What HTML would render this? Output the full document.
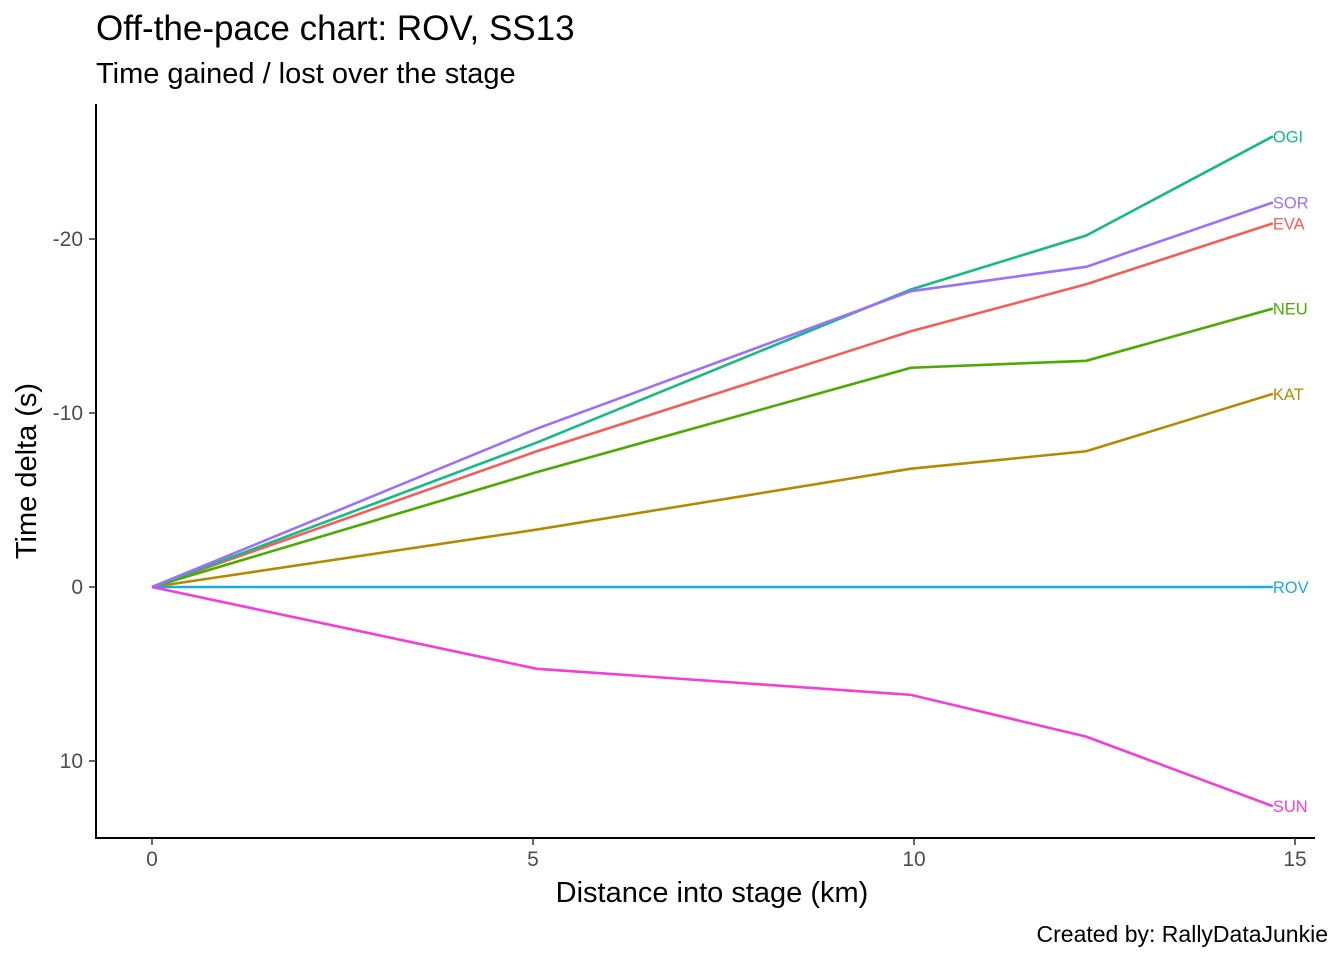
<!DOCTYPE html>
<html><head><meta charset="utf-8"><style>
body{margin:0;background:#fff;}
svg{display:block;font-family:"Liberation Sans",Arial,sans-serif;}
</style></head><body>
<svg id="chart" width="1344" height="960">
<text x="96" y="40" font-size="35" fill="#000">Off-the-pace chart: ROV, SS13</text>
<text x="96" y="83" font-size="29" fill="#000">Time gained / lost over the stage</text>
<g id="plot"></g>
<line x1="96" y1="104" x2="96" y2="839" stroke="#000" stroke-width="2"/>
<line x1="95" y1="838" x2="1315" y2="838" stroke="#000" stroke-width="2"/>
<text x="712" y="902" font-size="29" text-anchor="middle">Distance into stage (km)</text>
<text transform="translate(36,471) rotate(-90)" font-size="29" text-anchor="middle">Time delta (s)</text>
<text x="1328" y="942" font-size="23" text-anchor="end">Created by: RallyDataJunkie</text>
</svg>
<script>
const distances=[0,5.05,9.96,12.26,14.71];
const drivers=["EVA","KAT","NEU","OGI","ROV","SOR","SUN"];
const colors=["#F35E5A","#B38A00","#4CAA00","#17B985","#19A9E5","#9B70FA","#F43ED8"];
const EVA=[0,-7.8,-14.7,-17.4,-20.9];
const KAT=[0,-3.3,-6.8,-7.8,-11.1];
const NEU=[0,-6.6,-12.6,-13.0,-16.0];
const OGI=[0,-8.3,-17.1,-20.2,-25.9];
const ROV=[0,0,0,0,0];
const SOR=[0,-9.1,-17.0,-18.4,-22.1];
const SUN=[0,4.7,6.2,8.6,12.6];
const series=[EVA,KAT,NEU,OGI,ROV,SOR,SUN];
const xTicks=[0,5,10,15];
const yTicks=[-20,-10,0,10];
const NS="http://www.w3.org/2000/svg";
const xs=v=>152+v*76.2;
const ys=v=>587+v*17.4;
const svg=document.getElementById('chart');
const g=document.getElementById('plot');
function el(t,a,p){const e=document.createElementNS(NS,t);for(const k in a)e.setAttribute(k,a[k]);(p||g).appendChild(e);return e;}
xTicks.forEach(t=>{
 const l=el('line',{x1:xs(t),x2:xs(t),y1:838,y2:845,stroke:'#333','stroke-width':1.5},svg);
 
 
 const tx=el('text',{x:xs(t),y:866,'font-size':21,'text-anchor':'middle',fill:'#4d4d4d'},svg);
 tx.textContent=t;
 
 
});
yTicks.forEach(t=>{
 const l=el('line',{x1:89,x2:96,y1:ys(t),y2:ys(t),stroke:'#333','stroke-width':1.5},svg);
 
 
 const tx=el('text',{x:83,y:ys(t)+7,'font-size':21,'text-anchor':'end',fill:'#4d4d4d'},svg);
 tx.textContent=t;
 
 
});
series.forEach((s,i)=>{
 const pts=s.map((v,j)=>xs(distances[j])+','+ys(v)).join(' ');
 const p=el('polyline',{points:pts,fill:'none',stroke:colors[i],'stroke-width':2.6});
 
 
 const n=s.length-1;
 const t=el('text',{x:xs(distances[n]),y:ys(s[n])+6,'font-size':16.5,fill:colors[i]});
 t.textContent=drivers[i];
 
 
});
</script>
</body></html>
